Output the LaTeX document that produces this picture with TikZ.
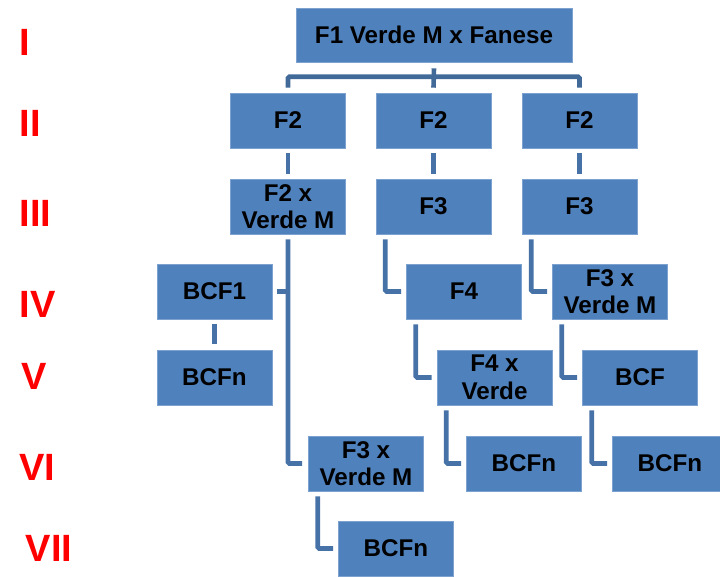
\documentclass[tikz,border=0pt]{standalone}
\usepackage{fontspec}
\setmainfont{Liberation Sans}
\definecolor{boxblue}{HTML}{4F81BD}
\definecolor{boxedge}{HTML}{7EA2D0}
\definecolor{linkblue}{HTML}{4672A7}
\definecolor{brackblue}{HTML}{416A99}
\definecolor{levelred}{HTML}{FF0000}
\tikzset{
  gen/.style={rectangle, fill=boxblue, draw=boxedge, line width=0.6pt,
    minimum width=115pt, minimum height=55pt, inner sep=0pt, align=center,
    font=\fontsize{24.2}{27.5}\selectfont\bfseries, text=black},
  conn/.style={draw=linkblue, line width=4.6pt, rounded corners=1.5pt},
  brk/.style={draw=brackblue, line width=4.6pt, rounded corners=1.5pt},
  level/.style={anchor=base west, inner sep=0pt, text=levelred,
    font=\fontsize{38}{40}\selectfont\bfseries}
}
\begin{document}
\begin{tikzpicture}[x=1pt, y=-1pt]
\useasboundingbox (0,0) rectangle (720,576);

% generation labels
\node[level] (l1) at (19.3,55) {I};
\node[level] (l2) at (19.3,136) {II};
\node[level] (l3) at (19.3,226) {III};
\node[level] (l4) at (19.3,317) {IV};
\node[level] (l5) at (21.7,389) {V};
\node[level] (l6) at (19.3,480) {VI};
\node[level] (l7) at (25.7,561) {VII};

% crossing tree
\node[gen, minimum width=276pt, minimum height=54pt] (f1) at (434,35) {F1 Verde M x Fanese};

\node[gen] (a2) at (288,120.5) {F2};
\node[gen] (b2) at (433.5,120.5) {F2};
\node[gen] (c2) at (579.5,120.5) {F2};

\node[gen] (a3) at (288,206.5) {F2 x\\Verde M};
\node[gen] (b3) at (433.5,206.5) {F3};
\node[gen] (c3) at (579.5,206.5) {F3};

\node[gen] (bcf1) at (214.5,291.5) {BCF1};
\node[gen] (f4) at (464,291.5) {F4};
\node[gen] (f3vm4) at (610,291.5) {F3 x\\Verde M};

\node[gen] (bcfn5) at (214.5,377.5) {BCFn};
\node[gen] (f4v) at (494.5,377.5) {F4 x\\Verde};
\node[gen] (bcf) at (640,377.5) {BCF};

\node[gen] (f3vm6) at (366,463.5) {F3 x\\Verde M};
\node[gen] (bcfn6a) at (524,463.5) {BCFn};
\node[gen] (bcfn6b) at (670,463.5) {BCFn};

\node[gen] (bcfn7) at (396,548.5) {BCFn};

% bracket from F1 to the three F2
\draw[brk] ([yshift=5pt]a2.north) -- ([yshift=16pt]a2.north)
  -- ([yshift=16pt]c2.north) -- ([yshift=5pt]c2.north);
\draw[brk] ([yshift=-6pt]f1.south) -- ([yshift=5pt]b2.north);

% F2 -> next row
\draw[conn] ([yshift=-5pt]a2.south) -- ([yshift=5pt]a3.north);
\draw[conn] ([yshift=-5pt]b2.south) -- ([yshift=5pt]b3.north);
\draw[conn] ([yshift=-5pt]c2.south) -- ([yshift=5pt]c3.north);

% left branch
\draw[conn] ([yshift=-5pt]a3.south) |- ([xshift=-6pt]f3vm6.west);
\draw[conn] ([xshift=5pt]bcf1.east) -- (bcf1.east -| a3.south);
\draw[conn] ([yshift=-5pt]bcf1.south) -- ([yshift=6pt]bcfn5.north);
\draw[conn] ([xshift=9.5pt,yshift=-5pt]f3vm6.south west) |- ([xshift=-5pt]bcfn7.west);

% middle branch
\draw[conn] ([xshift=9.5pt,yshift=-5pt]b3.south west) |- ([xshift=-5pt]f4.west);
\draw[conn] ([xshift=9.5pt,yshift=-5pt]f4.south west) |- ([xshift=-5pt]f4v.west);
\draw[conn] ([xshift=9.5pt,yshift=-5pt]f4v.south west) |- ([xshift=-5pt]bcfn6a.west);

% right branch
\draw[conn] ([xshift=9.5pt,yshift=-5pt]c3.south west) |- ([xshift=-5pt]f3vm4.west);
\draw[conn] ([xshift=9.5pt,yshift=-5pt]f3vm4.south west) |- ([xshift=-5pt]bcf.west);
\draw[conn] ([xshift=9.5pt,yshift=-5pt]bcf.south west) |- ([xshift=-5pt]bcfn6b.west);
\end{tikzpicture}
\end{document}
